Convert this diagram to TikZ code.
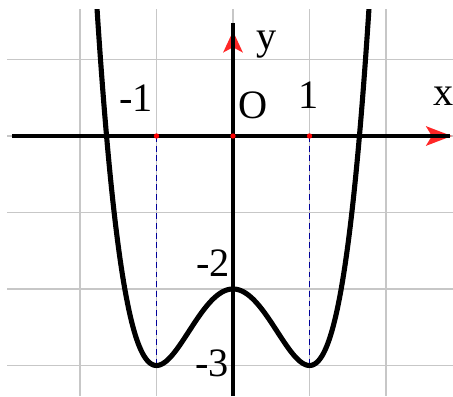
\documentclass[tikz,border=0pt]{standalone}
\usepackage{fontspec}
\setmainfont{Liberation Serif}
\begin{document}
\begin{tikzpicture}[
  gridline/.style={draw=black!22, line width=0.6pt},
  axisline/.style={draw=black, line width=1.5pt},
  redhead/.style={fill=red!85!white, draw=none},
  guide/.style={draw=blue!60!black, line width=0.55pt, dash pattern=on 2.2pt off 1.4pt},
  curveline/.style={draw=black, line width=1.9pt, line join=round},
  lbl/.style={inner sep=0pt, font=\fontsize{15}{18}\selectfont},
  dot/.style={circle, fill=red, inner sep=0pt, minimum size=2pt}
]
\useasboundingbox (-3.046,-3.399) rectangle (2.876,1.778);
% grid
\foreach \y in {1,0,-1,-2,-3} \draw[gridline] (-2.95,\y) -- (2.876,\y);
\foreach \x in {-2,-1,0,1,2} \draw[gridline] (\x,1.66) -- (\x,-3.399);
% dashed guides
\coordinate (pm1) at (-1,0);
\coordinate (pp1) at (1,0);
\coordinate (bm1) at (-1,-3);
\coordinate (bp1) at (1,-3);
\draw[guide] (pm1) -- (bm1);
\draw[guide] (pp1) -- (bp1);
% red arrowheads
\fill[redhead] (2.86,0) -- (2.52,0.13) -- (2.6,0) -- (2.52,-0.13) -- cycle;
\fill[redhead] (0,1.37) -- (0.13,1.09) -- (0,1.16) -- (-0.13,1.09) -- cycle;
% axes
\coordinate (xl) at (-2.89,0);
\coordinate (xr) at (2.84,0);
\coordinate (yb) at (0,-3.399);
\coordinate (yt) at (0,1.477);
\draw[axisline] (xl) -- (xr);
\draw[axisline] (yb) -- (yt);
% curve
\begin{scope}
\clip (-3.1,-3.4) rectangle (2.9,1.66);
\draw[curveline] plot[domain=-1.8:1.8, samples=240, smooth] (\x,{(\x)^4-2*(\x)^2-2});
\end{scope}
% dots
\node[dot] (d1) at (-1,0) {};
\node[dot] (d0) at (0,0) {};
\node[dot] (d2) at (1,0) {};
% labels
\node[lbl] (lm1) at (-1.27,0.50) {-1};
\node[lbl] (lO) at (0.26,0.40) {O};
\node[lbl] (l1) at (0.99,0.53) {1};
\node[lbl] (lx) at (2.75,0.52) {x};
\node[lbl] (ly) at (0.44,1.19) {y};
\node[lbl] (lm2) at (-0.26,-1.66) {-2};
\node[lbl] (lm3) at (-0.27,-2.97) {-3};
\end{tikzpicture}
\end{document}
